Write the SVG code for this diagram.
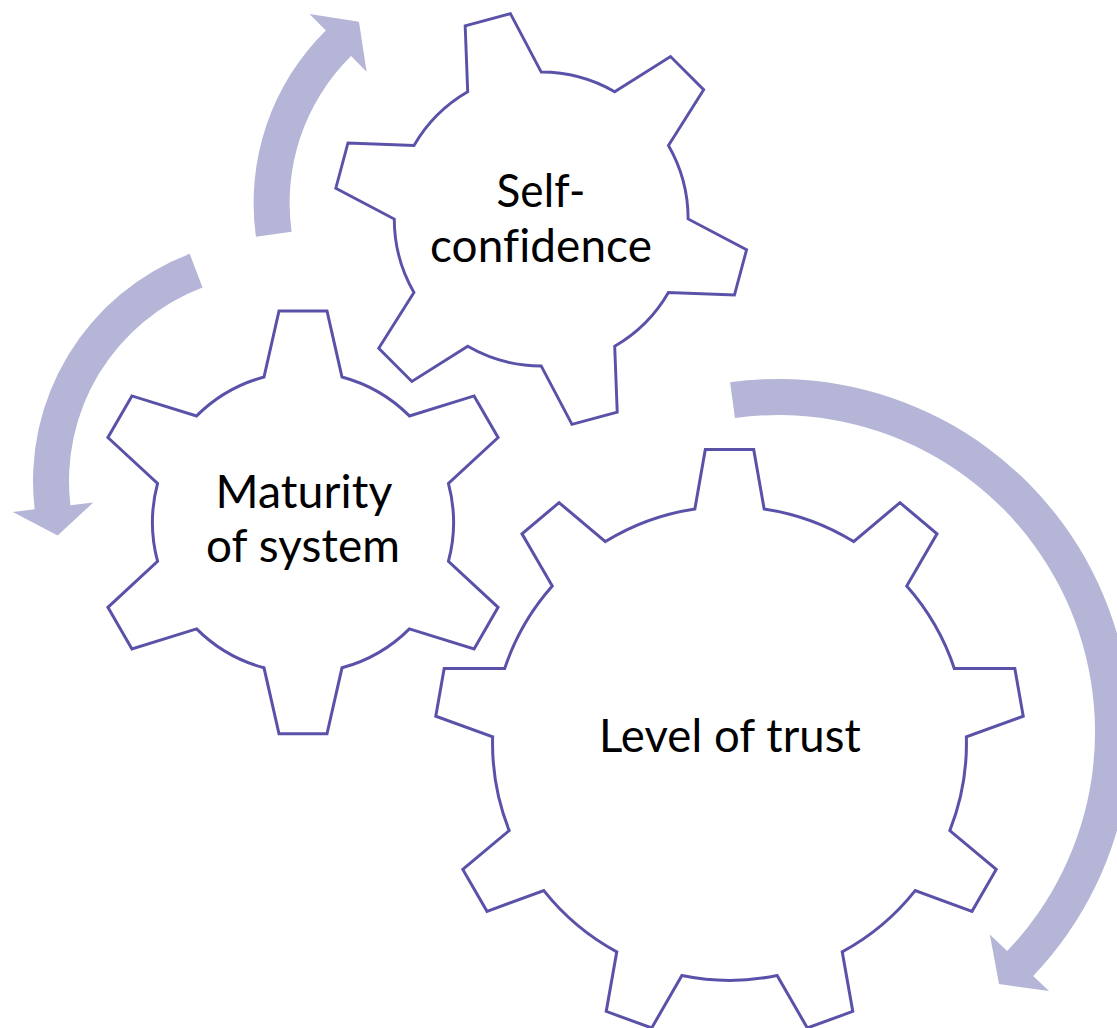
<svg xmlns="http://www.w3.org/2000/svg" xmlns:xlink="http://www.w3.org/1999/xlink" width="1117" height="1028" viewBox="0 0 1117 1028">
<style>
.gear{fill:#ffffff;stroke:#5A52A8;stroke-width:3;stroke-linejoin:miter}
.arrow{fill:#B5B5D8;stroke:none}
.lbl{font-family:Lato,"Open Sans","Liberation Sans",sans-serif;font-size:46px;fill:#000000;text-anchor:middle;font-variant-ligatures:none;font-feature-settings:"liga" 0;letter-spacing:0.1px}
</style>
<defs>
<path id="gear6" d="M -39,-145.4 L -24,-211.4 L 24,-211.4 L 39,-145.4 A 150.54 150.54 0 0 1 106.42,-106.47 L 171.08,-126.48 L 195.08,-84.92 L 145.42,-38.93 A 150.54 150.54 0 0 1 145.42,38.93 L 195.08,84.92 L 171.08,126.48 L 106.42,106.47 A 150.54 150.54 0 0 1 39,145.4 L 24,211.4 L -24,211.4 L -39,145.4 A 150.54 150.54 0 0 1 -106.42,106.47 L -171.08,126.48 L -195.08,84.92 L -145.42,38.93 A 150.54 150.54 0 0 1 -145.42,-38.93 L -195.08,-84.92 L -171.08,-126.48 L -106.42,-106.47 A 150.54 150.54 0 0 1 -39,-145.4 Z"/>
</defs>
<g id="connectors">
<path class="arrow" d="M 255.96,236.73 A 242.4 242.4 0 0 1 325.80,30.40 L 309.51,13.89 L 358.95,21.79 L 366.59,71.77 L 351.08,56.04 A 206.4 206.4 0 0 0 291.61,231.73 Z"/>
<path class="arrow" d="M 189.71,253.84 A 243 243 0 0 0 34.66,509.35 L 12.81,511.92 L 57.68,535.43 L 93.26,502.47 L 70.41,505.15 A 207 207 0 0 1 202.49,287.49 Z"/>
<path class="arrow" d="M 730.09,382.27 A 353 353 0 0 1 1033.21,975.88 L 1049.11,991.08 L 999.01,984.02 L 989.83,934.43 L 1007.18,951.01 A 317 317 0 0 0 734.98,417.93 Z"/>
</g>
<g id="node-self-confidence">
<use xlink:href="#gear6" href="#gear6" class="gear" transform="translate(541.2,219) rotate(-15) scale(0.976)"/>
<text class="lbl" x="541" y="207" textLength="89" lengthAdjust="spacingAndGlyphs">Self-</text>
<text class="lbl" x="541" y="262" textLength="222" lengthAdjust="spacingAndGlyphs">confidence</text>
</g>
<g id="node-maturity">
<use xlink:href="#gear6" href="#gear6" class="gear" transform="translate(303,522.4)"/>
<text class="lbl" x="304" y="508" textLength="177" lengthAdjust="spacingAndGlyphs">Maturity</text>
<text class="lbl" x="303" y="562" textLength="194" lengthAdjust="spacingAndGlyphs">of system</text>
</g>
<g id="node-trust">
<path class="gear" transform="translate(729.5,743.4)" d="M -34.65,-234.4 L -24.2,-294 L 24.2,-294 L 34.65,-234.4 A 236.95 236.95 0 0 1 124.13,-201.82 L 170.44,-240.76 L 207.52,-209.64 L 177.21,-157.28 A 236.95 236.95 0 0 1 224.81,-74.81 L 285.33,-74.87 L 293.73,-27.21 L 236.85,-6.57 A 236.95 236.95 0 0 1 220.32,87.19 L 266.70,126.04 L 242.50,167.96 L 185.66,147.21 A 236.95 236.95 0 0 1 112.72,208.41 L 123.29,267.99 L 77.81,284.55 L 47.60,232.11 A 236.95 236.95 0 0 1 -47.60,232.11 L -77.81,284.55 L -123.29,267.99 L -112.72,208.41 A 236.95 236.95 0 0 1 -185.66,147.21 L -242.50,167.96 L -266.70,126.04 L -220.32,87.19 A 236.95 236.95 0 0 1 -236.85,-6.57 L -293.73,-27.21 L -285.33,-74.87 L -224.81,-74.81 A 236.95 236.95 0 0 1 -177.21,-157.28 L -207.52,-209.64 L -170.44,-240.76 L -124.13,-201.82 A 236.95 236.95 0 0 1 -34.65,-234.4 Z"/>
<text class="lbl" x="730" y="752" textLength="262" lengthAdjust="spacingAndGlyphs">Level of trust</text>
</g>
</svg>
